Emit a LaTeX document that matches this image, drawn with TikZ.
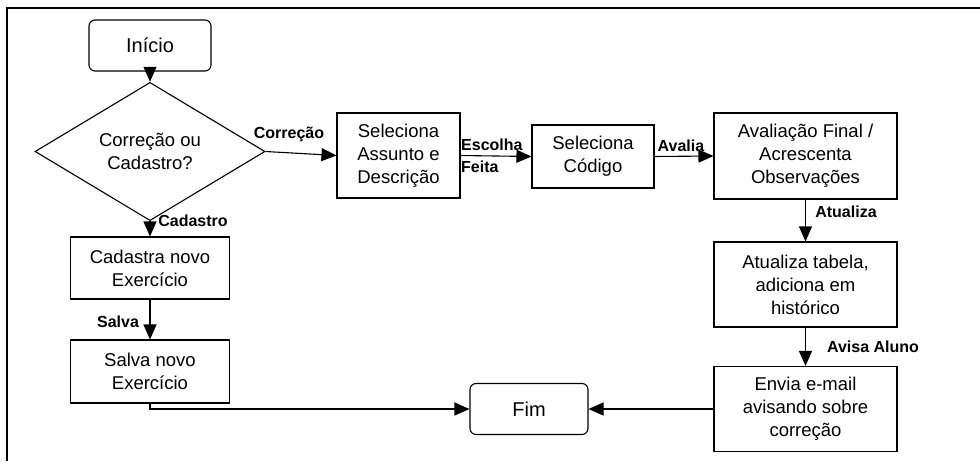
\documentclass[tikz,border=0pt]{standalone}
\usepackage{fontspec}
\setmainfont{Liberation Sans}
\usetikzlibrary{arrows.meta,shapes.geometric}
\begin{document}
\begin{tikzpicture}[x=1pt,y=-1pt,
  boxnode/.style={draw,line width=1.1pt,inner sep=0pt,align=center,font=\fontsize{18.5}{23}\selectfont},
  termnode/.style={boxnode,rounded corners=6pt,font=\fontsize{20}{23}\selectfont},
  lbl/.style={inner sep=0pt,font=\fontsize{16}{22}\selectfont\bfseries},
  conn/.style={line width=1.1pt,-{Triangle[length=15pt,width=13pt]}},
  plainline/.style={line width=1.1pt}]
\useasboundingbox (0,0) rectangle (980,461);
\coordinate (fbl) at (7,461);
\coordinate (ftl) at (7,8);
\coordinate (ftr) at (980,8);
\draw[plainline] (fbl) -- (ftl) -- (ftr);

\node[termnode,minimum width=122pt,minimum height=51pt] (inicio) at (150,45.5) {Início};
\node[draw,line width=1.1pt,diamond,inner sep=0pt,minimum width=230pt,minimum height=103pt,align=center,font=\fontsize{18.5}{23}\selectfont] (dec) at (150,151.5) {Correção ou\\Cadastro?};
\node[boxnode,minimum width=123pt,minimum height=85pt] (assunto) at (398.5,155.5) {Seleciona\\Assunto e\\Descrição};
\node[boxnode,minimum width=122pt,minimum height=63pt] (codigo) at (593,156.5) {Seleciona\\Código};
\node[boxnode,minimum width=183pt,minimum height=86pt] (aval) at (805.5,156) {Avaliação Final /\\Acrescenta\\Observações};
\node[boxnode,minimum width=183pt,minimum height=85pt] (atual) at (805.5,284.5) {Atualiza tabela,\\adiciona em\\histórico};
\node[boxnode,minimum width=183pt,minimum height=85pt] (envia) at (805.5,409) {Envia e-mail\\avisando sobre\\correção};
\node[termnode,minimum width=118pt,minimum height=51pt] (fim) at (529,409) {Fim};
\node[boxnode,minimum width=159pt,minimum height=62pt] (cad) at (150,268) {Cadastra novo\\Exercício};
\node[boxnode,minimum width=159pt,minimum height=63pt] (salva) at (150,371.5) {Salva novo\\Exercício};

\draw[conn] (inicio) -- (dec);
\draw[conn] (dec.east) -- (assunto.west);
\draw[conn] (dec.south) -- (cad.north);
\draw[conn] (cad) -- (salva);
\draw[conn] (salva.south) |- (fim.west);
\draw[conn] (assunto.east) -- (codigo.west);
\draw[conn] (codigo.east) -- (aval.west);
\draw[conn] (aval) -- (atual);
\draw[conn] (atual) -- (envia);
\draw[conn] (envia) -- (fim);

\node[lbl,anchor=base] (lcor) at (289,138) {Correção};
\node[lbl,anchor=base] (lcad) at (193,226) {Cadastro};
\node[lbl,anchor=base] (lsal) at (118,327) {Salva};
\node[lbl,align=left,anchor=west] (lesc) at (461,155.5) {Escolha\\Feita};
\node[lbl,anchor=base] (lava) at (681,151) {Avalia};
\node[lbl,anchor=base] (latu) at (846,217) {Atualiza};
\node[lbl,anchor=base] (lavi) at (873,352) {Avisa Aluno};
\end{tikzpicture}
\end{document}
